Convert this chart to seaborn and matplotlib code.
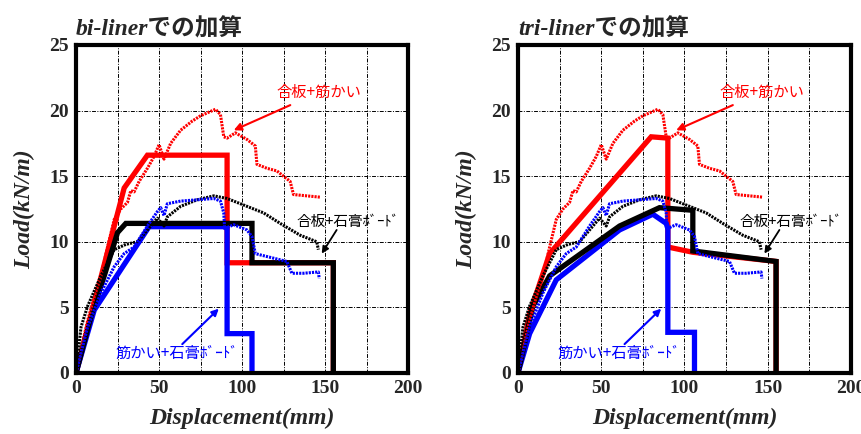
import numpy as np
import pandas as pd
import matplotlib
matplotlib.use("Agg")
import matplotlib.pyplot as plt
from matplotlib.ticker import MultipleLocator
import seaborn as sns

# experimental curves (same in both panels)
exp_red_x = [0, 3, 7, 11, 15, 19, 23, 27, 31, 33, 35, 38, 43, 47, 50, 53, 57, 63, 70, 75, 84, 87, 89, 91,
             96, 103, 108, 109, 115, 121, 129, 131, 139, 147]
exp_red_y = [0, 1.8, 4.0, 5.8, 7.4, 9.6, 11.7, 12.5, 13.0, 13.9, 13.8, 14.6, 15.6, 16.5, 17.4, 16.3, 17.5, 18.5,
             19.2, 19.6, 20.1, 19.7, 18.0, 17.9, 18.3, 17.8, 17.3, 15.9, 15.6, 15.4, 14.6, 13.6, 13.5, 13.4]

exp_blk_x = [0, 3, 7, 15, 23, 30, 37, 43, 49, 53, 55, 63, 73, 83, 91, 103, 113, 123, 135, 145, 146]
exp_blk_y = [0, 3.5, 5.1, 7.4, 9.4, 9.8, 10.0, 10.9, 11.8, 11.2, 11.9, 12.7, 13.2, 13.5, 13.3, 12.7, 12.2,
             11.4, 10.5, 10.0, 9.4]

exp_blu_x = [0, 7, 15, 23, 29, 35, 43, 49, 51, 53, 55, 63, 83, 87, 89, 89.5, 95, 103, 106, 108, 111, 127,
             130, 137, 146, 146.5]
exp_blu_y = [0, 3.5, 6.1, 8.1, 9.1, 9.6, 11.2, 12.3, 12.6, 12.0, 12.9, 13.1, 13.3, 13.1, 12.2, 11.0, 11.3,
             10.9, 10.4, 9.1, 9.0, 8.5, 7.6, 7.6, 7.7, 7.2]

# bi-liner sums
bi_red_x = [0, 29, 43, 91, 91, 155, 155]
bi_red_y = [0, 14.1, 16.6, 16.6, 8.4, 8.4, 0]
bi_blu_x = [0, 11, 44, 91, 91, 106, 106]
bi_blu_y = [0, 4.8, 11.15, 11.15, 3.0, 3.0, 0]
bi_blk_x = [0, 9, 17, 25, 30, 106, 106, 155, 155]
bi_blk_y = [0, 4.3, 7.4, 10.7, 11.4, 11.4, 8.4, 8.4, 0]

# tri-liner sums
tri_red_x = [0, 7, 19, 80, 90, 90, 105, 155, 155]
tri_red_y = [0, 4.5, 9.1, 18.0, 17.9, 9.6, 9.2, 8.5, 0]
tri_blu_x = [0, 7, 23, 61, 81, 89, 90, 90, 106, 106]
tri_blu_y = [0, 3.0, 7.1, 10.9, 12.1, 11.4, 11.0, 3.1, 3.1, 0]
tri_blk_x = [0, 9, 19, 61, 85, 105, 105, 155, 155]
tri_blk_y = [0, 5.1, 7.4, 11.2, 12.6, 12.4, 9.3, 8.5, 0]

titles = ["bi-linerでの加算", "tri-linerでの加算"]
lbl_red = "合板+筋かい"
lbl_blk = "合板+石膏ﾎﾞｰﾄﾞ"
lbl_blu = "筋かい+石膏ﾎﾞｰﾄﾞ"

sns.set_style("white")
plt.rcParams["font.family"] = ["Liberation Serif", "Noto Sans CJK JP", "DejaVu Sans"]

RED, BLUE, BLACK = "#ff0000", "#0000ff", "#000000"

fig = plt.figure(figsize=(8.61, 4.34), dpi=100)
ax1 = fig.add_axes([0.0883, 0.1406, 0.3856, 0.7558])
ax2 = fig.add_axes([0.6016, 0.1406, 0.3868, 0.7558])

models = [
    [(bi_red_x, bi_red_y, RED), (bi_blu_x, bi_blu_y, BLUE), (bi_blk_x, bi_blk_y, BLACK)],
    [(tri_red_x, tri_red_y, RED), (tri_blu_x, tri_blu_y, BLUE), (tri_blk_x, tri_blk_y, BLACK)],
]
exps = [(exp_red_x, exp_red_y, RED), (exp_blk_x, exp_blk_y, BLACK), (exp_blu_x, exp_blu_y, BLUE)]

jp = ["Noto Sans CJK JP", "DejaVu Sans"]

for ax, mod, title in zip([ax1, ax2], models, titles):
    for x, y, c in mod:
        d = pd.DataFrame({"x": x, "y": y})
        sns.lineplot(data=d, x="x", y="y", sort=False, estimator=None, color=c, lw=3.8, ax=ax,
                     solid_joinstyle="miter")
    for x, y, c in exps:
        d = pd.DataFrame({"x": x, "y": y})
        sns.lineplot(data=d, x="x", y="y", sort=False, estimator=None, color=c, lw=2.2, ax=ax,
                     linestyle=(0, (0.7, 0.35)))

    ax.set_xlim(0, 200)
    ax.set_ylim(0, 25)
    ax.xaxis.set_major_locator(MultipleLocator(50))
    ax.xaxis.set_minor_locator(MultipleLocator(25))
    ax.yaxis.set_major_locator(MultipleLocator(5))
    ax.grid(True, which="both", color="black", lw=0.7, linestyle=(0, (4, 1.5, 1, 1.5)))
    ax.tick_params(which="both", length=0, pad=5)
    for lab in ax.get_xticklabels() + ax.get_yticklabels():
        lab.set_fontweight("bold")
        lab.set_fontsize(14)
    for s in ax.spines.values():
        s.set_linewidth(3)
        s.set_color("black")
    ax.set_xlabel("Displacement(mm)", fontsize=17, fontweight="bold", fontstyle="italic", labelpad=8)
    ax.set_ylabel("Load(kN/m)", fontsize=17, fontweight="bold", fontstyle="italic", labelpad=10)
    ax.set_title(title, fontsize=17, fontweight="bold", fontstyle="italic", loc="left", pad=7)

    ax.annotate(lbl_red, xy=(95, 18.5), xytext=(121, 21.4), color=RED, fontsize=11, family=jp,
                va="center", ha="left",
                arrowprops=dict(arrowstyle="-|>", color=RED, lw=1.5, shrinkA=2, shrinkB=0))
    ax.annotate(lbl_blk, xy=(148, 9.1), xytext=(133, 11.5), color=BLACK, fontsize=10.5, family=jp,
                va="center", ha="left")
    ax.annotate("", xy=(148, 9.1), xytext=(157, 10.9),
                arrowprops=dict(arrowstyle="-|>", color=BLACK, lw=1.3, shrinkA=0, shrinkB=0))
    ax.annotate(lbl_blu, xy=(86, 4.9), xytext=(24, 1.5), color=BLUE, fontsize=11, family=jp,
                va="center", ha="left")
    ax.annotate("", xy=(86, 4.9), xytext=(64, 2.2),
                arrowprops=dict(arrowstyle="-|>", color=BLUE, lw=1.5, shrinkA=0, shrinkB=0))

fig.savefig("out.png", dpi=100)
